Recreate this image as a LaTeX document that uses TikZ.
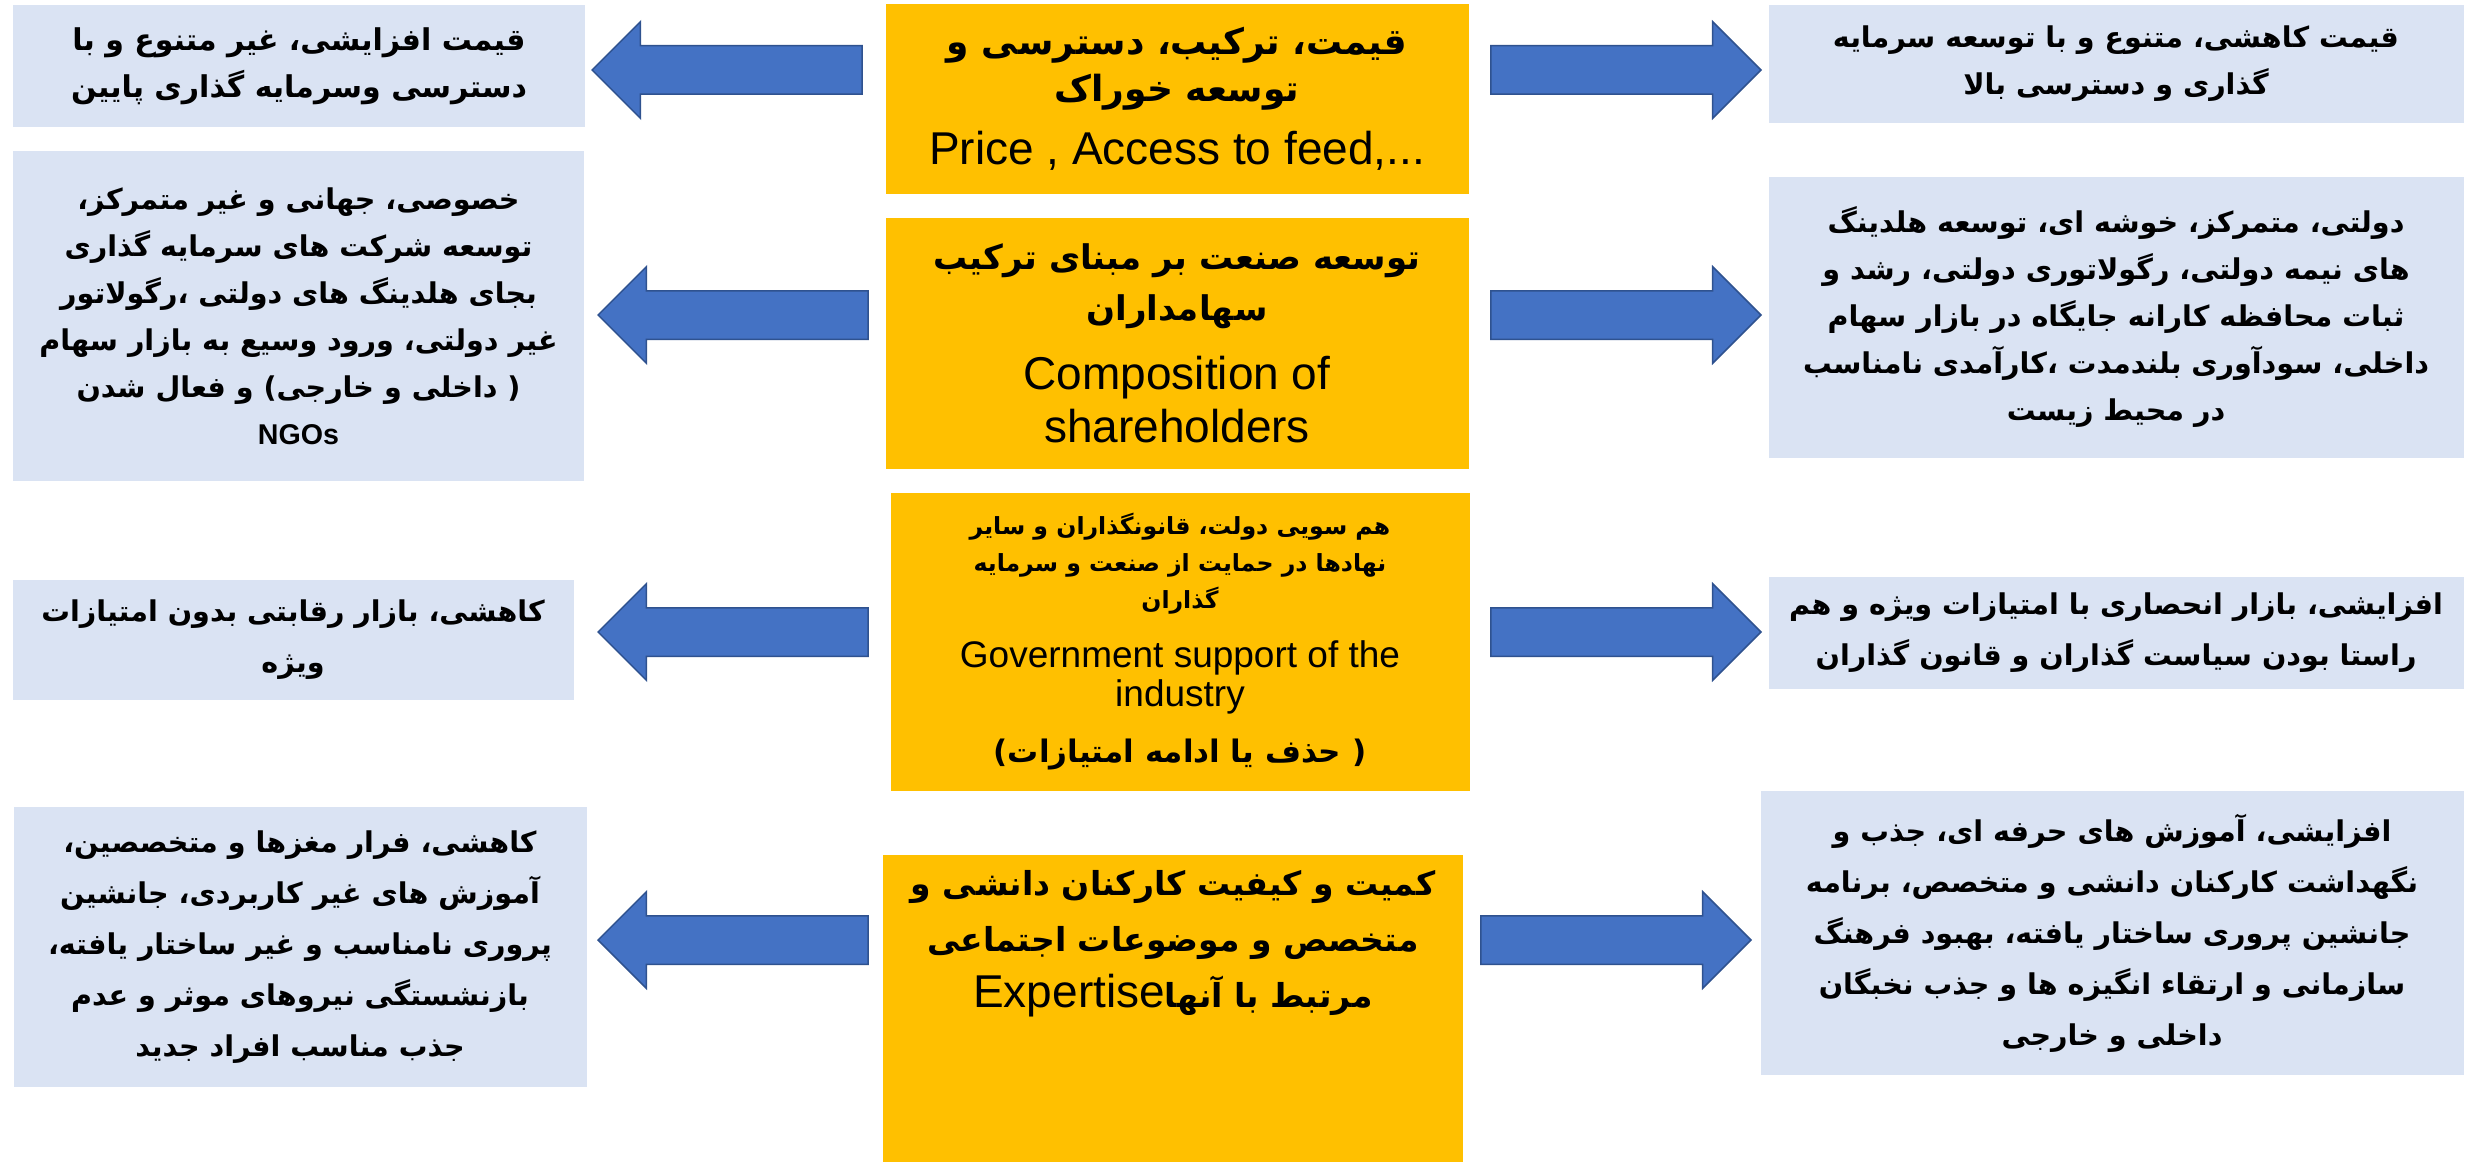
\documentclass[tikz,border=0pt]{standalone}
\usepackage{fontspec}
\setmainfont{Liberation Sans}
\newfontfamily\fafont[Script=Arabic]{DejaVu Sans}
\TeXXeTstate=1
\usetikzlibrary{shapes.arrows}

\definecolor{sideblue}{HTML}{DAE3F3}
\definecolor{coreyellow}{HTML}{FFC000}
\definecolor{arrowblue}{HTML}{4472C4}
\definecolor{arrowedge}{HTML}{2F528F}

\newcommand{\fatext}[1]{{\fafont\bfseries\beginR #1\endR}}
\newcommand{\entext}[2]{{\fontsize{#1}{#1}\selectfont #2}}

\begin{document}
\begin{tikzpicture}[
        x=0.5pt, y=-0.5pt,
        sidebox/.style = {
            fill=sideblue,
            align=center,
            inner sep=0pt,
            font=\fontsize{14.3}{23.5}\selectfont
        },
        loosebox/.style = {
            sidebox,
            font=\fontsize{14.3}{25.5}\selectfont
        },
        corebox/.style = {
            fill=coreyellow,
            align=center,
            inner sep=0pt
        },
        blockarrow/.style = {
            single arrow,
            draw=arrowedge,
            fill=arrowblue,
            line width=0.75pt,
            inner xsep=0pt,
            inner ysep=11.75pt,
            minimum height=135pt,
            single arrow head extend=12pt,
            single arrow tip angle=90,
            anchor=tip
        }]
    \useasboundingbox (0,0) rectangle (2471,1161);

    % centre column
    \node[corebox, minimum width=291.5pt, minimum height=95pt,
          font=\fontsize{18}{23.5}\selectfont] (core1) at (1177,99) {%
        \fatext{قیمت، ترکیب، دسترسی و}\\
        \fatext{توسعه خوراک}\\[8pt]
        \entext{23}{Price , Access to feed,...}};
    \node[corebox, minimum width=291.5pt, minimum height=125.5pt,
          font=\fontsize{17}{25.5}\selectfont] (core2) at (1177,343) {%
        \fatext{توسعه صنعت بر مبنای ترکیب}\\
        \fatext{سهامداران}\\[9pt]
        \entext{23}{Composition of}\\[1pt]
        \entext{23}{shareholders}};
    \node[corebox, minimum width=289.5pt, minimum height=149pt,
          font=\fontsize{11.8}{18.5}\selectfont] (core3) at (1180,642) {%
        \fatext{هم سویی دولت، قانونگذاران و سایر}\\
        \fatext{نهادها در حمایت از صنعت و سرمایه}\\
        \fatext{گذاران}\\[11pt]
        \entext{18.5}{Government support of the}\\[1pt]
        \entext{18.5}{industry}\\[9.5pt]
        {\fontsize{15.5}{15.5}\selectfont\fatext{( حذف یا ادامه امتیازات)}}};
    \node[corebox, minimum width=290pt, minimum height=153.5pt] (core4) at (1173,1008) {};
    \node[align=center, anchor=north, yshift=-8pt, inner sep=0pt,
          font=\fontsize{16.5}{28}\selectfont] (core4text) at (core4.north) {%
        \fatext{کمیت و کیفیت کارکنان دانشی و}\\
        \fatext{متخصص و موضوعات اجتماعی}\\
        \fatext{مرتبط با آنها\beginL{\normalfont\fontsize{23}{23}\selectfont Expertise}\endL}};

    % left column
    \node[sidebox, minimum width=286pt, minimum height=60.5pt,
          font=\fontsize{15}{23.5}\selectfont] (left1) at (299,66) {%
        \fatext{قیمت افزایشی، غیر متنوع و با}\\
        \fatext{دسترسی وسرمایه گذاری پایین}};
    \node[sidebox, minimum width=285.5pt, minimum height=165pt] (left2) at (298.5,316) {%
        \fatext{خصوصی، جهانی و غیر متمرکز،}\\
        \fatext{توسعه شرکت های سرمایه گذاری}\\
        \fatext{بجای هلدینگ های دولتی ،رگولاتور}\\
        \fatext{غیر دولتی، ورود وسیع به بازار سهام}\\
        \fatext{( داخلی و خارجی) و فعال شدن}\\
        \textbf{NGOs}};
    \node[loosebox, minimum width=280.5pt, minimum height=60pt] (left3) at (293,640) {%
        \fatext{کاهشی، بازار رقابتی بدون امتیازات}\\
        \fatext{ویژه}};
    \node[loosebox, minimum width=286.5pt, minimum height=140pt] (left4) at (300,947) {%
        \fatext{کاهشی، فرار مغزها و متخصصین،}\\
        \fatext{آموزش های غیر کاربردی، جانشین}\\
        \fatext{پروری نامناسب و غیر ساختار یافته،}\\
        \fatext{بازنشستگی نیروهای موثر و عدم}\\
        \fatext{جذب مناسب افراد جدید}};

    % right column
    \node[sidebox, minimum width=347.5pt, minimum height=59pt] (right1) at (2116,64) {%
        \fatext{قیمت کاهشی، متنوع و با توسعه سرمایه}\\
        \fatext{گذاری و دسترسی بالا}};
    \node[sidebox, minimum width=347.5pt, minimum height=140.5pt] (right2) at (2116,317) {%
        \fatext{دولتی، متمرکز، خوشه ای، توسعه هلدینگ}\\
        \fatext{های نیمه دولتی، رگولاتوری دولتی، رشد و}\\
        \fatext{ثبات محافظه کارانه جایگاه در بازار سهام}\\
        \fatext{داخلی، سودآوری بلندمدت ،کارآمدی نامناسب}\\
        \fatext{در محیط زیست}};
    \node[loosebox, minimum width=347.5pt, minimum height=56pt] (right3) at (2116,633) {%
        \fatext{افزایشی، بازار انحصاری با امتیازات ویژه و هم}\\
        \fatext{راستا بودن سیاست گذاران و قانون گذاران}};
    \node[loosebox, minimum width=351.5pt, minimum height=142pt] (right4) at (2112,933) {%
        \fatext{افزایشی، آموزش های حرفه ای، جذب و}\\
        \fatext{نگهداشت کارکنان دانشی و متخصص، برنامه}\\
        \fatext{جانشین پروری ساختار یافته، بهبود فرهنگ}\\
        \fatext{سازمانی و ارتقاء انگیزه ها و جذب نخبگان}\\
        \fatext{داخلی و خارجی}};

    % arrows
    \node[blockarrow, shape border rotate=180] (arrowl1) at (591,70) {};
    \node[blockarrow] (arrowr1) at (1762,70) {};
    \node[blockarrow, shape border rotate=180] (arrowl2) at (597,315) {};
    \node[blockarrow] (arrowr2) at (1762,315) {};
    \node[blockarrow, shape border rotate=180] (arrowl3) at (597,632) {};
    \node[blockarrow] (arrowr3) at (1762,632) {};
    \node[blockarrow, shape border rotate=180] (arrowl4) at (597,940) {};
    \node[blockarrow] (arrowr4) at (1752,940) {};
\end{tikzpicture}
\end{document}
